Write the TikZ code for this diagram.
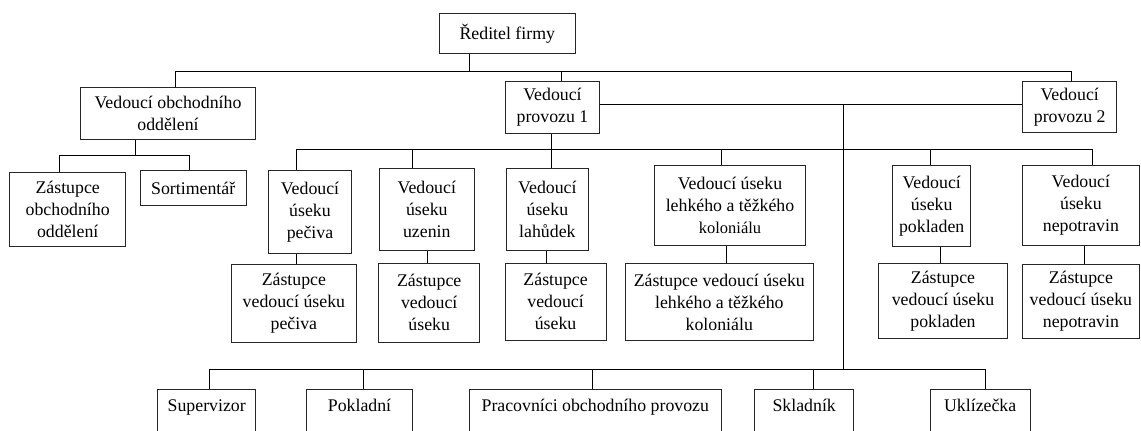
\documentclass[tikz,border=0pt]{standalone}
\usepackage{fontspec}
\setmainfont{Liberation Serif}
\newfontfamily\tnrfont{Liberation Serif}
\begin{document}
\begin{tikzpicture}[x=1pt,y=-1pt,
  box/.style={draw=black!85, line width=0.9pt, inner sep=0pt, align=center,
     font=\tnrfont\fontsize{17.8pt}{22pt}\selectfont},
  bbox/.style={box, anchor=north, text height=21.7pt, text depth=50pt},
  conn/.style={draw=black, line width=0.9pt}]
\path[use as bounding box, clip] (0,0) rectangle (1141,431);
\fill[white] (0,0) rectangle (1141,431);
% level 0-1
\node[box, minimum width=136pt, minimum height=40pt] (red) at (507.3,33.3) {Ředitel firmy};
\node[box, minimum width=175.2pt, minimum height=51.7pt] (voo) at (168,113.2) {Vedoucí obchodního\\oddělení};
\node[box, minimum width=93.6pt, minimum height=51.5pt] (vp1) at (552.5,107.3) {Vedoucí\\provozu 1};
\node[box, minimum width=94pt, minimum height=51pt] (vp2) at (1069.7,107.2) {Vedoucí\\provozu 2};
% obchodní oddělení
\node[box, minimum width=116pt, minimum height=74.4pt] (zoo) at (67.7,209.5) {Zástupce\\obchodního\\oddělení};
\node[box, minimum width=105.7pt, minimum height=34.3pt] (sort) at (193.2,187.9) {Sortimentář};
% vedoucí úseků
\node[box, minimum width=82.6pt, minimum height=82.6pt] (pec) at (310,212) {Vedoucí\\úseku\\pečiva};
\node[box, minimum width=95.7pt, minimum height=82.4pt] (uze) at (426.8,209.5) {Vedoucí\\úseku\\uzenin};
\node[box, minimum width=81.8pt, minimum height=82.4pt] (lah) at (547.4,209.5) {Vedoucí\\úseku\\lahůdek};
\node[box, minimum width=151.4pt, minimum height=80pt] (kol) at (730,205.7) {Vedoucí úseku\\lehkého a těžkého\\{\fontsize{16.5pt}{20pt}\selectfont koloniálu}};
\node[box, minimum width=77.8pt, minimum height=81pt] (pok) at (931.7,206.2) {Vedoucí\\úseku\\pokladen};
\node[box, minimum width=116.3pt, minimum height=79.3pt] (nep) at (1080.9,205.4) {Vedoucí\\úseku\\nepotravin};
% zástupci
\node[box, minimum width=125.7pt, minimum height=78.3pt] (zpec) at (293.9,303.2) {Zástupce\\vedoucí úseku\\pečiva};
\node[box, minimum width=100.6pt, minimum height=79pt] (zuze) at (429.2,302.8) {Zástupce\\vedoucí\\úseku};
\node[box, minimum width=100.8pt, minimum height=76.7pt] (zlah) at (555.6,301.7) {Zástupce\\vedoucí\\úseku};
\node[box, minimum width=188.3pt, minimum height=77.4pt] (zkol) at (719.3,302) {Zástupce vedoucí úseku\\lehkého a těžkého\\koloniálu};
\node[box, minimum width=129.6pt, minimum height=75pt] (zpok) at (943,300.8) {Zástupce\\vedoucí úseku\\pokladen};
\node[box, minimum width=116.3pt, minimum height=74pt] (znep) at (1080.9,301.3) {Zástupce\\vedoucí úseku\\nepotravin};
% bottom row
\node[bbox, minimum width=98pt] (sup) at (206.7,389.3) {Supervizor};
\node[bbox, minimum width=106pt] (pkl) at (359.5,389.3) {Pokladní};
\node[bbox, minimum width=251.4pt] (pra) at (595.3,389.3) {Pracovníci obchodního provozu};
\node[bbox, minimum width=98.9pt] (skl) at (804.2,389.3) {Skladník};
\node[bbox, minimum width=99.7pt] (ukl) at (980.2,389.3) {Uklízečka};
% junction coordinates
\coordinate (jRed) at (469,71);
\coordinate (jVoo) at (175.7,71);
\coordinate (jVp1) at (561.3,71);
\coordinate (jVp2) at (1071.7,71);
\coordinate (jObch) at (135.5,155.7);
\coordinate (jZoo) at (59.3,155.7);
\coordinate (jSort) at (189.4,155.7);
\coordinate (jProv) at (843.7,104);
\coordinate (jPec) at (296.6,149.3);
\coordinate (jUze) at (412.6,149.3);
\coordinate (jLah) at (551.6,149.3);
\coordinate (jKol) at (721.4,149.3);
\coordinate (jPok) at (930.3,149.3);
\coordinate (jNep) at (1092,149.3);
\coordinate (jSup) at (209.3,369);
\coordinate (jPkl) at (363.5,369);
\coordinate (jPra) at (592.9,369);
\coordinate (jSkl) at (813,369);
\coordinate (jUkl) at (985.9,369);
\coordinate (jMid) at (843.7,369);
% connectors
\draw[conn] (red.south -| jRed) -- (jRed);
\draw[conn] (voo.north -| jVoo) -- (jVoo) -- (jVp2) -- (vp2.north -| jVp2);
\draw[conn] (jVp1) -- (vp1.north -| jVp1);
\draw[conn] (voo.south -| jObch) -- (jObch);
\draw[conn] (zoo.north -| jZoo) -- (jZoo) -- (jSort) -- (sort.north -| jSort);
\draw[conn] (vp1.east |- jProv) -- (vp2.west |- jProv);
\draw[conn] (jProv) -- (jMid);
\draw[conn] (pec.north -| jPec) -- (jPec) -- (jNep) -- (nep.north -| jNep);
\draw[conn] (vp1.south -| jLah) -- (lah.north -| jLah);
\draw[conn] (jUze) -- (uze.north -| jUze);
\draw[conn] (jKol) -- (kol.north -| jKol);
\draw[conn] (jPok) -- (pok.north -| jPok);
\draw[conn] (pec.south -| 296.6,0) -- (zpec.north -| 296.6,0);
\draw[conn] (uze.south -| 427.1,0) -- (zuze.north -| 427.1,0);
\draw[conn] (lah.south -| 546.5,0) -- (zlah.north -| 546.5,0);
\draw[conn] (kol.south -| 726.7,0) -- (zkol.north -| 726.7,0);
\draw[conn] (pok.south -| 940,0) -- (zpok.north -| 940,0);
\draw[conn] (nep.south -| 1084.4,0) -- (znep.north -| 1084.4,0);
\draw[conn] (sup.north -| jSup) -- (jSup) -- (jUkl) -- (ukl.north -| jUkl);
\draw[conn] (jPkl) -- (pkl.north -| jPkl);
\draw[conn] (jPra) -- (pra.north -| jPra);
\draw[conn] (jSkl) -- (skl.north -| jSkl);
\end{tikzpicture}
\end{document}
